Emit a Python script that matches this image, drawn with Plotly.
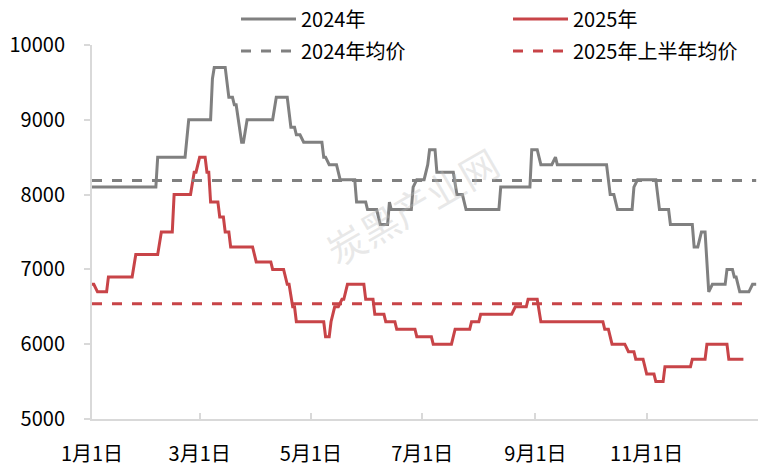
import plotly.graph_objects as go

# ---------------- data (MM-DD positions on a common Jan–Dec axis) ----------------
dates_2024 = ["01-01","02-05","02-06","02-21","02-23","03-07","03-08","03-09","03-15","03-17",
              "03-19","03-20","03-21","03-24","03-25","03-27","04-10","04-12","04-18","04-20",
              "04-22","04-23","04-25","04-27","05-07","05-08","05-09","05-11","05-15","05-17",
              "05-25","05-26","05-31","06-01","06-06","06-08","06-12","06-13","06-14","06-25",
              "06-26","06-28","07-02","07-04","07-05","07-08","07-09","07-18","07-20","07-23",
              "07-25","08-12","08-13","08-29","08-30","09-02","09-04","09-10","09-12","09-13",
              "10-10","10-12","10-14","10-16","10-24","10-25","10-27","11-06","11-08","11-13",
              "11-14","11-26","11-27","11-29","12-01","12-03","12-05","12-07","12-14","12-15",
              "12-18","12-19","12-20","12-22","12-27","12-29","12-31"]
price_2024 = [8100,8100,8500,8500,9000,9000,9550,9700,9700,9300,
              9300,9200,9200,8700,8700,9000,9000,9300,9300,8900,
              8900,8800,8800,8700,8700,8500,8500,8400,8400,8200,
              8200,7900,7900,7800,7800,7600,7600,7900,7800,7800,
              8100,8200,8200,8400,8600,8600,8300,8300,8000,8000,
              7800,7800,8100,8100,8600,8600,8400,8400,8500,8400,
              8400,8000,8000,7800,7800,8100,8200,8200,7800,7800,
              7600,7600,7300,7300,7500,7500,6700,6800,6800,7000,
              7000,6900,6900,6700,6700,6800,6800]

dates_2025 = ["01-01","01-02","01-04","01-09","01-10","01-23","01-25","02-06","02-08","02-14",
              "02-15","02-24","02-26","02-27","03-01","03-04","03-05","03-06","03-07","03-11",
              "03-12","03-14","03-15","03-17","03-18","03-30","04-01","04-09","04-10","04-16",
              "04-18","04-19","04-21","04-22","04-23","05-08","05-09","05-11","05-12","05-14",
              "05-16","05-18","05-19","05-21","05-30","05-31","06-04","06-05","06-10","06-11",
              "06-16","06-17","06-27","06-28","07-06","07-07","07-17","07-19","07-27","07-28",
              "08-01","08-02","08-19","08-21","08-27","08-28","09-02","09-04","10-08","10-09",
              "10-11","10-13","10-20","10-22","10-25","10-26","10-30","11-01","11-05","11-06",
              "11-10","11-11","11-25","11-26","12-03","12-04","12-15","12-16","12-24"]
price_2025 = [6800,6800,6700,6700,6900,6900,7200,7200,7500,7500,
              8000,8000,8300,8300,8500,8500,8300,8300,7900,7900,
              7700,7700,7500,7500,7300,7300,7100,7100,7000,7000,
              6800,6800,6500,6500,6300,6300,6100,6100,6300,6500,
              6500,6600,6600,6800,6800,6600,6600,6400,6400,6300,
              6300,6200,6200,6100,6100,6000,6000,6200,6200,6300,
              6300,6400,6400,6500,6500,6600,6600,6300,6300,6200,
              6200,6000,6000,5900,5900,5800,5800,5600,5600,5500,
              5500,5700,5700,5800,5800,6000,6000,5800,5800]

avg_2024 = 8190            # 2024年均价
avg_2025_h1 = 6540         # 2025年上半年均价
avg_2024_span = ["01-01", "12-31"]
avg_2025_span = ["01-01", "12-24"]

tick_dates = ["01-01", "03-01", "05-01", "07-01", "09-01", "11-01"]
tick_labels = ["1月1日", "3月1日", "5月1日", "7月1日", "9月1日", "11月1日"]
y_ticks = [5000, 6000, 7000, 8000, 9000, 10000]

# ---------------- build ----------------
BASE_YEAR = "2025"
def to_date(md):
    return f"{BASE_YEAR}-{md}"

GRAY = "#808080"
RED = "#C84448"
FONT = "Noto Sans CJK SC"

fig = go.Figure()
fig.add_trace(go.Scatter(x=[to_date(d) for d in dates_2024], y=price_2024, mode="lines",
                         name="2024年", line=dict(color=GRAY, width=3),
                         legend="legend", legendwidth=202))
fig.add_trace(go.Scatter(x=[to_date(d) for d in dates_2025], y=price_2025, mode="lines",
                         name="2025年", line=dict(color=RED, width=3),
                         legend="legend", legendwidth=120))
fig.add_trace(go.Scatter(x=[to_date(d) for d in avg_2024_span], y=[avg_2024] * 2, mode="lines",
                         name="2024年均价", line=dict(color=GRAY, width=3, dash="10px,10px"),
                         legend="legend2", legendwidth=202))
fig.add_trace(go.Scatter(x=[to_date(d) for d in avg_2025_span], y=[avg_2025_h1] * 2, mode="lines",
                         name="2025年上半年均价", line=dict(color=RED, width=3, dash="10px,10px"),
                         legend="legend2", legendwidth=170))

tickvals = [to_date(d) for d in tick_dates] + ["2026-01-01"]
ticktext = tick_labels + [""]

leg_common = dict(orientation="h", xanchor="left", yanchor="middle",
                  xref="container", yref="container",
                  font=dict(family=FONT, size=20, color="#000000"),
                  entrywidthmode="pixels", itemwidth=55,
                  bgcolor="rgba(0,0,0,0)", borderwidth=0)

fig.update_layout(
    width=764, height=473,
    margin=dict(l=92, r=6, t=45, b=54, autoexpand=False),
    paper_bgcolor="white", plot_bgcolor="white",
    font=dict(family=FONT, size=20, color="#000000"),
    showlegend=True,
    legend=dict(x=236 / 764, y=1 - 19 / 473, **leg_common),
    legend2=dict(x=236 / 764, y=1 - 51 / 473, **leg_common),
    xaxis=dict(type="date", range=["2025-01-01", "2026-01-01"],
               tickmode="array", tickvals=tickvals, ticktext=ticktext,
               showgrid=False, zeroline=False,
               showline=True, linecolor="#D9D9D9", linewidth=2,
               ticks="inside", ticklen=6, tickcolor="#D9D9D9", tickwidth=2,
               ticklabelstandoff=16,
               tickfont=dict(family=FONT, size=20, color="#000000")),
    yaxis=dict(range=[5000, 10000], tickmode="array", tickvals=y_ticks,
               ticktext=[str(v) for v in y_ticks],
               showgrid=False, zeroline=False,
               showline=True, linecolor="#D9D9D9", linewidth=2,
               ticks="outside", ticklen=6, tickcolor="#D9D9D9", tickwidth=2,
               ticklabelstandoff=15,
               tickfont=dict(family=FONT, size=20, color="#000000")),
)

# faint watermark
fig.add_annotation(text="炭黑产业网", xref="paper", yref="paper", x=0.48, y=0.57,
                   showarrow=False, textangle=-30,
                   font=dict(family=FONT, size=38, color="rgba(190,190,190,0.35)"))

fig.write_html("out.html", config={"displayModeBar": False},
               post_script="document.body.style.margin='0px';document.body.style.padding='0px';")
